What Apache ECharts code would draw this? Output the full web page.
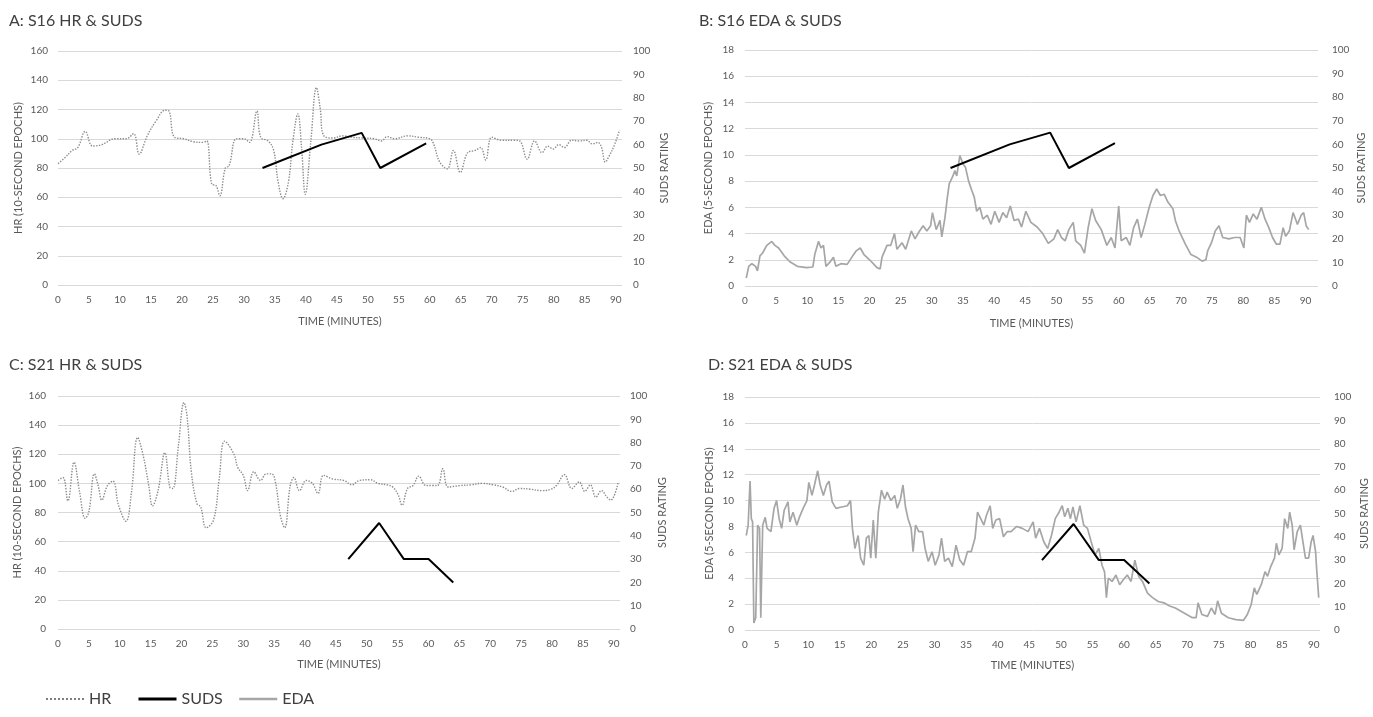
<!DOCTYPE html>
<html>
<head>
<meta charset="utf-8">
<title>S16 / S21 HR, EDA & SUDS</title>
<script src="https://cdn.jsdelivr.net/npm/echarts@6/dist/echarts.min.js"></script>
<style>
  html, body { margin: 0; padding: 0; background: #fff; }
  #main { width: 1373px; height: 717px; }
</style>
</head>
<body>
<div id="main"></div>
<script>
// [minute, value]
const hrS16 = [[0,83],[1.1,87],[2.3,92],[3.2,94],[4.4,105],[5.6,95],[7.1,96],[9.2,100],[11,100],[12.2,103.5],[13.1,89.5],[14.4,102],[15.8,112],[17.3,119.5],[17.9,119],[18.8,101],[20.3,100],[21.8,98],[23.3,97.5],[24,98.5],[24.8,69],[25.5,68],[26.1,61],[27,80],[27.6,81.5],[28.8,100],[30,100],[30.9,97.5],[32.1,119],[32.7,101],[33.9,98.5],[34.8,92],[35.5,71],[36.3,59],[37.2,71],[37.9,98.5],[38.7,117],[39.3,94],[39.9,62],[40.8,98.5],[41.7,135],[42.3,121],[42.9,102],[44.4,100.5],[45.9,102],[47.4,101],[49.2,100.5],[51,100],[52.2,98.5],[53.1,101.5],[54.3,100],[56.4,102],[58.2,101],[60,100],[60.6,96.5],[61.6,84],[62.8,79.5],[63.8,92],[64.9,77],[66.1,90.5],[67.3,92],[68.2,94],[69,85.5],[70,101],[71.5,99],[73.6,99],[74.5,98.5],[75.7,86],[76.9,98.5],[78.1,90.5],[79,95],[79.9,93],[80.8,96],[81.7,94],[82.9,99],[84.1,98.5],[85.3,99],[86.2,96.5],[87.1,97.5],[87.7,94],[88.3,84],[88.9,88],[89.8,96],[90.6,106]];

const hrS21 = [[0,102],[0.8,104],[1.6,88],[2.6,114.5],[3.5,94],[4.4,76],[5,80.5],[5.9,106.5],[6.5,98.5],[7.1,88.5],[8,98.5],[8.9,101.5],[9.8,85],[11,74],[11.9,94],[12.9,131.5],[13.8,119],[14.7,98.5],[15.3,84.5],[16.2,95],[17.3,121],[18.1,97.5],[18.6,96.5],[19.5,126],[20.4,155.5],[20.9,146],[21.6,107.5],[22.5,86],[23.1,84],[24,69.5],[25.2,75],[26.1,103],[27,129],[28.5,120],[29.1,111],[30,105.5],[30.7,95],[31.7,108],[32.8,102],[33.7,106.5],[34.6,106.5],[35.2,101],[36,78],[36.7,69.5],[37.6,98.5],[38.2,104],[39.1,95],[40.2,102],[41.2,100],[42.1,93],[43,105.5],[44.5,103],[46.3,102],[47.6,99],[48.8,102],[50.6,102.5],[51.8,100],[53.3,99],[54.2,97.5],[55.1,92],[55.7,85],[56.6,96.5],[57.5,98.5],[58.4,105],[59.6,98.5],[61.4,98.5],[62.3,110],[63.2,97.5],[65.1,98.5],[66.9,99],[68.7,100],[70.5,99],[72,97.5],[73.5,94.5],[74.7,96.5],[76.5,96],[78.3,95],[79.8,96],[80.7,98.5],[82,106],[83.2,96.5],[84.4,101],[85.3,94.5],[86.2,99],[87.1,90.5],[88,95],[88.9,90.5],[89.5,88.5],[90.7,100.5]];

const edaS16 = [[0.2,0.6],[0.6,1.5],[1.1,1.7],[1.7,1.5],[2,1.15],[2.4,2.3],[2.8,2.5],[3.5,3.1],[4.3,3.4],[4.8,3.1],[5.4,2.9],[6.3,2.3],[7.2,1.85],[8.4,1.5],[9.9,1.4],[10.9,1.45],[11.2,2.4],[11.8,3.4],[12.2,2.9],[12.6,3.1],[13,1.5],[13.6,1.8],[14.2,2.2],[14.6,1.5],[15.4,1.7],[16.4,1.65],[17.3,2.3],[17.9,2.7],[18.5,2.9],[19.1,2.4],[20,2],[21.2,1.4],[21.7,1.3],[22,2.2],[22.8,3.1],[23.4,3.1],[24,4],[24.4,2.8],[25.2,3.3],[25.8,2.8],[26.7,4.2],[27.3,3.6],[27.9,4.1],[28.6,4.6],[29.2,4.2],[29.8,4.6],[30.1,5.6],[30.7,4.3],[31.3,5],[31.6,3.75],[32.1,5.2],[32.5,6.8],[32.8,7.8],[33.3,8.3],[33.7,8.8],[34,8.4],[34.5,9.95],[35,9.3],[35.4,9.05],[35.9,8],[36.4,7.3],[36.8,6.8],[37.2,5.7],[37.7,6],[38.2,5.1],[38.9,5.4],[39.5,4.7],[40.1,5.7],[40.8,4.85],[41.4,5.6],[42,5.2],[42.6,6.1],[43.2,5],[43.9,5.1],[44.4,4.5],[45.1,5.7],[45.9,4.85],[46.9,4.5],[47.8,4],[48.7,3.25],[49.6,3.6],[50.2,4.3],[50.8,3.7],[51.4,3.45],[52,4.3],[52.7,4.85],[53.1,3.45],[53.9,3.1],[54.5,2.5],[55.1,4.45],[55.7,5.9],[56.3,5],[57.2,4.3],[58.1,3.1],[58.8,3.7],[59.4,2.9],[60,6.1],[60.4,3.45],[61.2,3.7],[61.8,3.1],[62.4,4.45],[63,5.1],[63.6,3.7],[64.2,4.7],[64.9,6],[65.5,6.9],[66.1,7.4],[66.7,6.9],[67.3,7],[67.9,6.4],[68.7,5.9],[69.1,5],[69.7,4.2],[70.7,3.2],[71.6,2.4],[72.5,2.2],[73.4,1.9],[74,2],[74.3,2.7],[74.9,3.3],[75.5,4.2],[76.1,4.6],[76.7,3.7],[77.7,3.6],[78.6,3.7],[79.5,3.7],[80.1,2.9],[80.5,5.4],[81,4.85],[81.6,5.5],[82.2,5.1],[82.9,6],[83.5,5.1],[84.1,4.45],[84.7,3.7],[85.3,3.2],[85.9,3.2],[86.4,4.45],[86.8,3.8],[87.4,4.2],[88,5.6],[88.7,4.7],[89.3,5.4],[89.7,5.6],[90.1,4.6],[90.5,4.3]];

const edaS21 = [[0.2,7.3],[0.5,8.1],[0.8,11.5],[1,8.6],[1.2,8.35],[1.4,0.55],[1.7,0.95],[2,8.1],[2.3,7.85],[2.5,0.95],[2.8,8.1],[3.2,8.7],[3.5,7.85],[4.1,7.6],[4.6,9.4],[5,10],[5.4,8.6],[5.8,7.85],[6.2,9.25],[6.8,9.9],[7.1,8.35],[7.6,9.1],[8.2,8.1],[8.6,8.7],[9.2,9.4],[9.8,10],[10.1,11.4],[10.6,10.4],[11,11.2],[11.5,12.3],[11.9,11.2],[12.4,10.4],[12.9,11.2],[13.3,11.5],[13.8,9.9],[14.4,9.4],[15.3,9.5],[16.2,9.6],[16.7,10],[17,7.85],[17.4,6.3],[17.9,7.3],[18.3,5.55],[18.8,5],[19.2,7.1],[19.6,7.3],[19.9,5.55],[20.3,8.5],[20.7,5.55],[21.1,9.1],[21.6,10.8],[22.1,10.1],[22.5,10.65],[23.1,10],[23.7,10.4],[24.1,9.4],[24.6,10.1],[25,11.2],[25.4,9.5],[25.8,8.6],[26.3,7.85],[26.6,6.05],[27,8.1],[27.5,7.6],[28.1,7.6],[28.5,6.3],[29,5.3],[29.6,6.05],[30.1,5],[30.7,5.8],[31.1,7.1],[31.6,5.3],[32.2,5.55],[32.8,4.9],[33.4,6.55],[34,5.4],[34.6,5],[35.2,6.05],[35.8,6.05],[36.4,7.1],[36.8,9.1],[37.3,8.6],[37.8,8.1],[38.2,8.85],[38.8,9.6],[39.2,7.85],[39.7,8.5],[40.3,8.6],[40.9,7.2],[41.5,7.6],[42.1,7.6],[43,8],[43.9,7.85],[44.8,7.6],[45.6,8.35],[46,7.1],[46.6,7.85],[47.3,6.8],[47.9,6.3],[48.5,7.3],[49.1,8.6],[49.7,9.1],[50.2,9.6],[50.6,8.75],[51.1,9.4],[51.5,8.6],[51.9,9.5],[52.4,8.35],[53,9.6],[53.6,8.1],[54.2,7.85],[54.8,6.8],[55.4,5.8],[56,6.3],[56.5,5],[56.9,4.5],[57.2,2.5],[57.5,4],[58.1,3.75],[58.7,4.25],[59.3,3.5],[59.9,3.9],[60.5,4.25],[61.1,3.75],[61.7,5.4],[62.3,4.15],[62.9,3.75],[63.7,2.85],[64.5,2.5],[65.4,2.2],[66.3,2.1],[67.2,1.85],[68.1,1.7],[69,1.45],[69.9,1.2],[70.8,0.95],[71.4,0.95],[71.7,2.1],[72.3,1.2],[73.2,1.05],[73.8,1.7],[74.4,1.2],[74.8,2.25],[75.4,1.3],[76.5,0.95],[77.7,0.8],[78.9,0.75],[79.5,1.2],[80.1,1.95],[80.6,3.25],[81,2.75],[81.7,3.5],[82.3,4.5],[82.7,4.15],[83.2,4.9],[83.8,5.55],[84.1,6.7],[84.5,5.8],[85,6.3],[85.4,8.6],[85.9,7.85],[86.2,9.1],[86.6,8.1],[86.9,6.2],[87.4,7.6],[87.9,8.1],[88.3,6.8],[88.7,5.55],[89.2,5.55],[89.6,6.8],[89.9,7.3],[90.3,6.05],[90.5,4.5],[90.8,2.5]];

const sudsS16 = [[33,50],[42.5,60],[49,65],[52,50],[59.4,60.5]];
const sudsS21 = [[47,30],[52,45.5],[56,30],[60,30],[64,20]];

const panelTitles = ['A: S16 HR & SUDS', 'B: S16 EDA & SUDS', 'C: S21 HR & SUDS', 'D: S21 EDA & SUDS'];
const hrName = 'HR (10-SECOND EPOCHS)';
const edaName = 'EDA (5-SECOND EPOCHS)';
const sudsName = 'SUDS RATING';
const timeName = 'TIME (MINUTES)';

const labelColor = '#595959';
const gridColor = '#d9d9d9';

function xAx(idx, max, gap) {
  return {
    type: 'value', gridIndex: idx, min: 0, max: max, interval: 5,
    name: timeName, nameLocation: 'middle', nameGap: gap,
    nameTextStyle: { color: labelColor, fontSize: 11 },
    axisLine: { show: false }, axisTick: { show: false }, splitLine: { show: false },
    axisLabel: { color: labelColor, fontSize: 10, margin: 10, showMaxLabel: false }
  };
}

function leftAx(idx, name, max, interval, gap, margin) {
  return {
    type: 'value', gridIndex: idx, position: 'left', min: 0, max: max, interval: interval,
    name: name, nameLocation: 'middle', nameGap: gap,
    nameTextStyle: { color: labelColor, fontSize: 11 },
    axisLine: { show: false }, axisTick: { show: false },
    splitLine: { show: true, lineStyle: { color: gridColor, width: 1 } },
    axisLabel: { color: labelColor, fontSize: 10, margin: margin }
  };
}

function rightAx(idx, gap, margin) {
  return {
    type: 'value', gridIndex: idx, position: 'right', min: 0, max: 100, interval: 10,
    name: sudsName, nameLocation: 'middle', nameGap: gap, nameRotate: 90,
    nameTextStyle: { color: labelColor, fontSize: 11 },
    axisLine: { show: false }, axisTick: { show: false }, splitLine: { show: false },
    axisLabel: { color: labelColor, fontSize: 10, margin: margin }
  };
}

const hrStyle = { type: 'line', symbol: 'none', smooth: 0.4, lineStyle: { color: '#8c8c8c', width: 1.4, type: 'dotted' }, itemStyle: { color: '#8c8c8c' } };
const edaStyle = { type: 'line', symbol: 'none', lineStyle: { color: '#a6a6a6', width: 1.7 }, itemStyle: { color: '#a6a6a6' } };
const sudsStyle = { type: 'line', symbol: 'none', lineStyle: { color: '#000', width: 2 }, itemStyle: { color: '#000' }, z: 5 };

let myChart = echarts.init(document.getElementById('main'));

let option = {
  animation: false,
  textStyle: { fontFamily: 'Lato, "Open Sans", sans-serif' },
  title: [
    { text: panelTitles[0], left: 9, top: 13 },
    { text: panelTitles[1], left: 699, top: 13 },
    { text: panelTitles[2], left: 9, top: 357 },
    { text: panelTitles[3], left: 708, top: 357 }
  ].map(t => Object.assign(t, { padding: 0, textStyle: { fontSize: 16, fontWeight: 'normal', color: '#404040' } })),
  // one legend per item so the gaps match the original
  legend: [
    { data: ['HR'], left: 45, lineStyle: { width: 2, color: '#7f7f7f' } },
    { data: ['SUDS'], left: 137, lineStyle: { width: 3 } },
    { data: ['EDA'], left: 238, lineStyle: { width: 2.5 } }
  ].map(l => Object.assign({
    top: 691, padding: 0, itemWidth: 38, itemHeight: 14,
    itemStyle: { opacity: 0 },
    textStyle: { fontSize: 16, color: '#404040' }
  }, l)),
  grid: [
    { left: 58, top: 51, width: 564, height: 234, outerBoundsMode: 'none' },
    { left: 745, top: 50, width: 573, height: 236, outerBoundsMode: 'none' },
    { left: 58, top: 396, width: 562, height: 233, outerBoundsMode: 'none' },
    { left: 745, top: 397, width: 575, height: 233, outerBoundsMode: 'none' }
  ],
  xAxis: [xAx(0, 91, 31), xAx(1, 92, 32), xAx(2, 91, 30), xAx(3, 91, 30)],
  yAxis: [
    leftAx(0, hrName, 160, 20, 34, 10), rightAx(0, 37, 11),
    leftAx(1, edaName, 18, 2, 31, 11), rightAx(1, 38, 14),
    leftAx(2, hrName, 160, 20, 35, 12), rightAx(2, 37, 10),
    leftAx(3, edaName, 18, 2, 30, 11), rightAx(3, 39, 14)
  ],
  series: [
    Object.assign({ name: 'HR', xAxisIndex: 0, yAxisIndex: 0, data: hrS16 }, hrStyle),
    Object.assign({ name: 'SUDS', xAxisIndex: 0, yAxisIndex: 1, data: sudsS16 }, sudsStyle),
    Object.assign({ name: 'EDA', xAxisIndex: 1, yAxisIndex: 2, data: edaS16 }, edaStyle),
    Object.assign({ name: 'SUDS', xAxisIndex: 1, yAxisIndex: 3, data: sudsS16 }, sudsStyle),
    Object.assign({ name: 'HR', xAxisIndex: 2, yAxisIndex: 4, data: hrS21 }, hrStyle),
    Object.assign({ name: 'SUDS', xAxisIndex: 2, yAxisIndex: 5, data: sudsS21 }, sudsStyle),
    Object.assign({ name: 'EDA', xAxisIndex: 3, yAxisIndex: 6, data: edaS21 }, edaStyle),
    Object.assign({ name: 'SUDS', xAxisIndex: 3, yAxisIndex: 7, data: sudsS21 }, sudsStyle)
  ]
};

myChart.setOption(option);
window.addEventListener('resize', () => {
  myChart.resize();
});
</script>
</body>
</html>
